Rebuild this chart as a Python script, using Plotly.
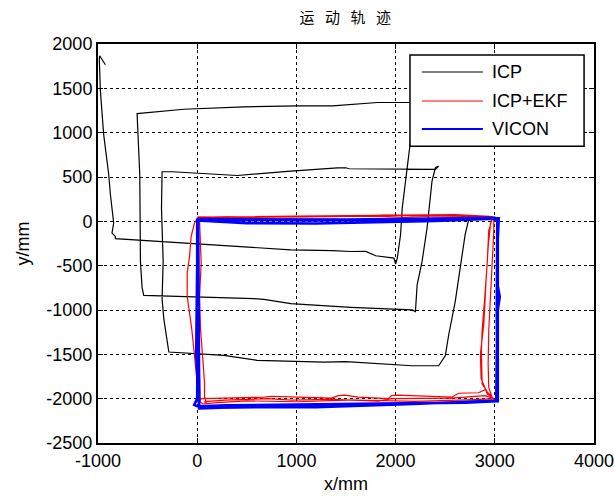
import plotly.graph_objects as go

# ---- ICP trajectory (mm) ----
icp_x = [-926, -960, -983, -987, -976, -943, -892, -875, -842, -859, -825,
         -825, -404, 269, 943, 1365, 1549, 1699, 1800, 1983, 2000,
         2017, 2050, 2067, 2117, 2150, 2167,
         2167, 1816, 1549, 1365, 1010, 471, -135, -606,
         -579, -572, -572, -556, -539,
         572, 673, 943, 1365, 1549, 2167, 2200,
         2217, 2267, 2317, 2340, 2367, 2401, 2434,
         2401, 2134, 2067, 1532, 1499, 1414, 943, 404, -253, -354,
         -360, -343, -354, -337, -286,
         269, 606, 943, 1279, 1499, 1766, 2167, 2434,
         2501, 2535, 2601, 2651, 2701, 2735]
icp_y = [1766, 1830, 1868, 1830, 1472, 981, 528, 302, -19, -132, -170,
         -196, -226, -272, -321, -330, -340, -339, -388, -415, -483,
         -415, -151, 150, 604, 906, 1321,
         1340, 1340, 1321, 1302, 1302, 1291, 1264, 1215,
         528, -38, -459, -741, -835,
         -872, -880, -929, -960, -970, -999, -1018,
         -716, -452, -75, 150, 453, 604, 623,
         585, 585, 593, 593, 604, 604, 566, 517, 559, 559,
         151, -453, -872, -1098, -1474,
         -1512, -1568, -1579, -1587, -1583, -1602, -1629, -1629,
         -1516, -1282, -905, -528, -151, 10]

# ---- ICP+EKF trajectory (mm) ----
ekf_x = [10, 300, 1000, 1700, 2300, 2600, 2950, 2990,
         2990, 2973, 2956, 2939, 2933, 2939, 2973, 3000,
         2902, 2835, 2633, 2566, 2027, 1960, 1926, 1623, 1488, 1421, 1354, 1017, 747, 680, 40,
         24, 7, 0, -20, -34, -54, -77, -101, -101, -77, -61, -27, 7,
         300, 1000, 1800, 2100, 2400, 2700, 2973,
         2939, 2923, 2899, 2872, 2865, 2872, 2906, 2960,
         2902, 2566, 1960, 1825, 1354, 949, 714, 276, 74,
         91, 74, 74, 57, 34, 24, 40, 24, 10,
         400, 1200, 1900, 2300, 2700, 2980, 2956,
         2933, 2912, 2889, 2855, 2862, 2899, 2923, 2990,
         2800, 2200, 1600, 1000, 500, 200, 60,
         30, 20, 10, 15, 10, 20]
ekf_y = [40, 50, 58, 65, 78, 75, 55, 45,
         -105, -481, -857, -1233, -1609, -1872, -1985, -2015,
         -1899, -1933, -1939, -1983, -1960, -1966, -2000, -1983, -1960, -1966, -1993, -1983, -1973, -1983, -2000,
         -2030, -1974, -1824, -1598, -1410, -1222, -1034, -846, -583, -395, -169, -19, 38,
         40, 45, 58, 45, 60, 60, 26,
         -105, -481, -857, -1233, -1459, -1835, -1891, -1990,
         -1966, -1993, -2000, -2027, -2007, -2017, -2000, -2017, -2034,
         -2049, -1974, -1824, -1560, -1222, -846, -470, 0, 50,
         45, 50, 70, 60, 50, 50, -30,
         -293, -669, -1158, -1496, -1778, -1872, -1947, -2000,
         -2010, -2030, -2015, -2035, -2025, -2045, -2060,
         -2040, -1500, -1000, -500, 0, 40]

# ---- VICON trajectory (mm) ----
vicon_x = [0, 600, 1200, 2000, 2800, 3040,
           3030, 3025, 3050, 3030, 3020, 3015,
           2700, 1300, 300, 0, -30,
           0, 5, 0, 0,
           500, 1200, 1800, 2400, 3000,
           3025, 3020, 3025,
           2400, 1800, 1200, 400, 20,
           -10, -5, 5,
           1500, 3000, 3030, 3030, 1500, 20, 10]
vicon_y = [20, 15, 10, 20, 30, 35,
           -200, -700, -850, -1000, -1500, -2030,
           -2045, -2060, -2075, -2085, -2070,
           -2000, -1000, -400, 10,
           -20, -25, -10, 5, 30,
           0, -1000, -2020,
           -2050, -2075, -2095, -2095, -2110,
           -1500, -500, 25,
           20, 40, 0, -2030, -2080, -2105, 0]

# ---- axis ticks ----
x_ticks = [-1000, 0, 1000, 2000, 3000, 4000]
x_tick_labels = ["-1000", "0", "1000", "2000", "3000", "4000"]
y_ticks = [-2500, -2000, -1500, -1000, -500, 0, 500, 1000, 1500, 2000]
y_tick_labels = ["-2500", "-2000", "-1500", "-1000", "-500", "0", "500", "1000", "1500", "2000"]

series_names = ["ICP", "ICP+EKF", "VICON"]
series_colors = ["black", "red", "blue"]
series_widths = [1.2, 1.2, 2.6]
legend_widths = [1.0, 1.0, 2.0]

FONT = "Liberation Sans, Arial, sans-serif"

fig = go.Figure()
for xs, ys, nm, c, w in zip([icp_x, ekf_x, vicon_x], [icp_y, ekf_y, vicon_y],
                            series_names, series_colors, series_widths):
    fig.add_trace(go.Scatter(x=xs, y=ys, mode="lines", name=nm,
                             line=dict(color=c, width=w), showlegend=False))

axis_common = dict(
    showline=True, linecolor="black", linewidth=2, mirror="allticks",
    ticks="inside", ticklen=5, tickcolor="black", tickwidth=1,
    showgrid=True, gridcolor="black", griddash="dot", gridwidth=1,
    zeroline=False, automargin=False, ticklabeloverflow="allow",
    tickfont=dict(family=FONT, size=18, color="black"),
)

# legend box (paper coordinates)
lx0, lx1, ly0, ly1 = 0.629, 0.980, 0.744, 0.9724
row_y = [0.9298, 0.8571, 0.787]
shapes = [dict(type="rect", xref="paper", yref="paper", x0=lx0, x1=lx1, y0=ly0, y1=ly1,
               line=dict(color="black", width=1.5), fillcolor="white", layer="above")]
annotations = []
for ry, nm, c, w in zip(row_y, series_names, series_colors, legend_widths):
    shapes.append(dict(type="line", xref="paper", yref="paper", x0=0.653, x1=0.776,
                       y0=ry, y1=ry, line=dict(color=c, width=w), layer="above"))
    annotations.append(dict(xref="paper", yref="paper", x=0.79, y=ry, text=nm,
                            showarrow=False, xanchor="left", yanchor="middle",
                            font=dict(family=FONT, size=18, color="black")))

fig.update_layout(
    width=614, height=497,
    margin=dict(l=98, r=20, t=44, b=54),
    paper_bgcolor="white", plot_bgcolor="white",
    font=dict(family=FONT, size=18, color="black"),
    title=dict(text="运\u2002\u2009动\u2002\u2009轨\u2002\u2009迹", x=0.5625, xanchor="center",
               y=0.964, yanchor="middle",
               font=dict(family="Noto Sans CJK SC", size=15, color="black")),
    xaxis=dict(range=[-1000, 4000], tickvals=x_ticks, ticktext=x_tick_labels,
               title=dict(text="x/mm", standoff=8, font=dict(family=FONT, size=18)),
               **axis_common),
    yaxis=dict(range=[-2500, 2000], tickvals=y_ticks, ticktext=y_tick_labels,
               title=dict(text="y/mm", standoff=12, font=dict(family=FONT, size=18)),
               **axis_common),
    shapes=shapes,
    annotations=annotations,
    showlegend=False,
)

fig.write_html("out.html",
               config={"displayModeBar": False},
               post_script="document.body.style.margin='0';document.body.style.padding='0';")
